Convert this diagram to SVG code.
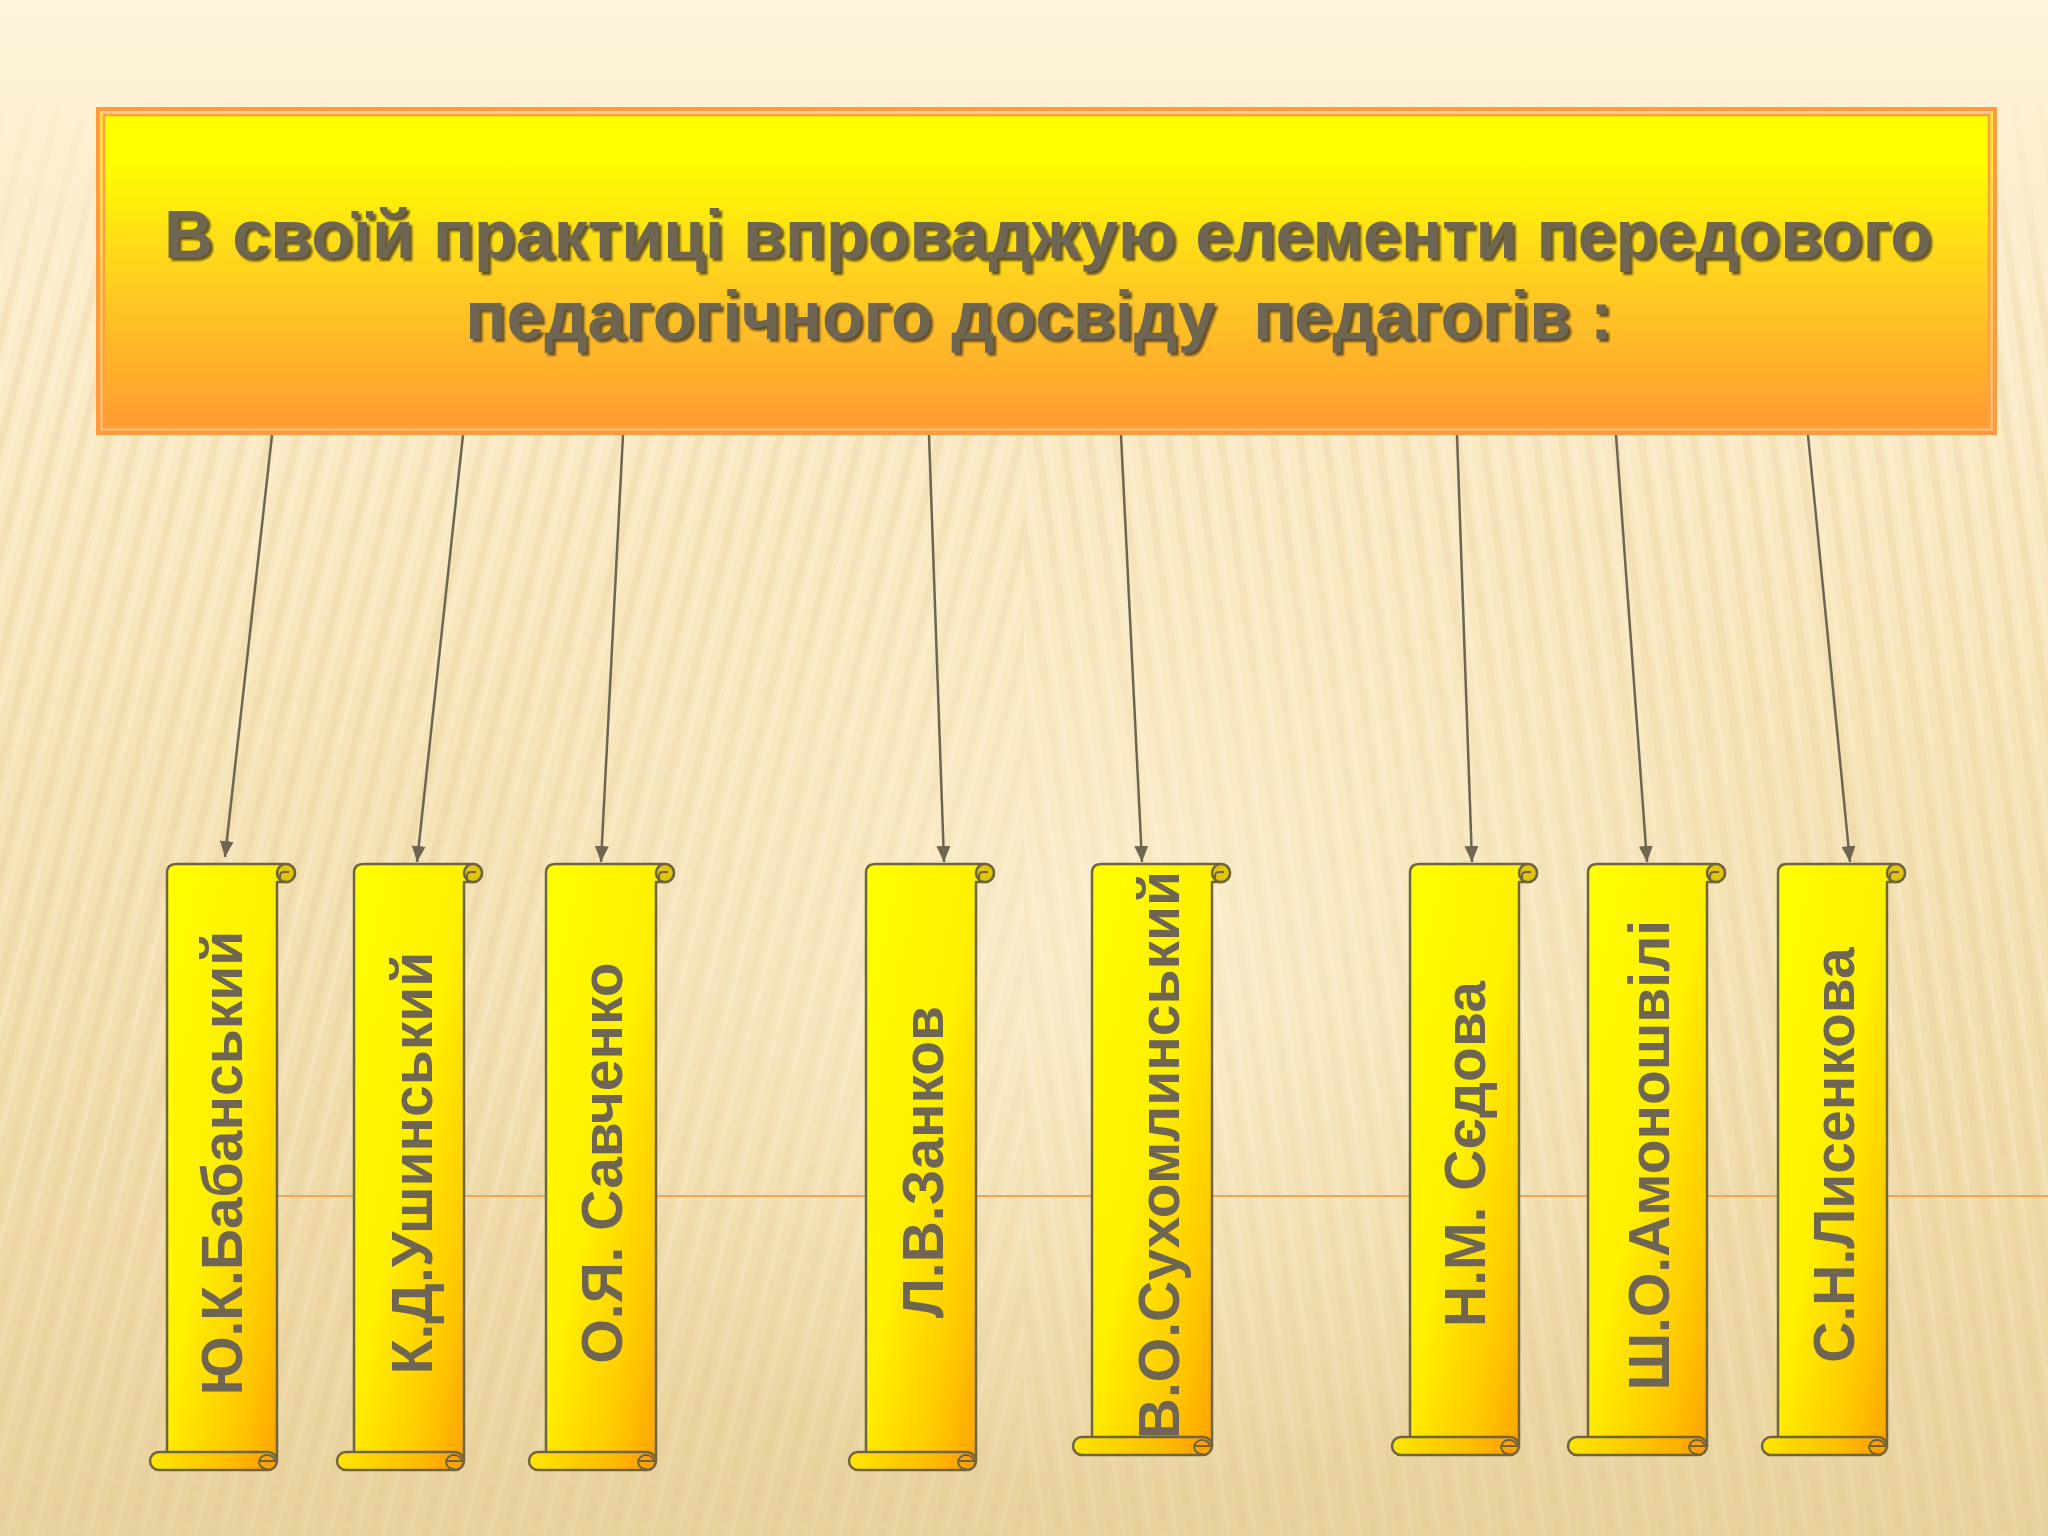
<svg xmlns="http://www.w3.org/2000/svg" width="2048" height="1536" viewBox="0 0 2048 1536">
<defs>
<linearGradient id="bg" x1="0" y1="0" x2="0" y2="1">
<stop offset="0" stop-color="#FEF4DA"/>
<stop offset="0.08" stop-color="#FDF0D2"/>
<stop offset="0.45" stop-color="#F7E5BA"/>
<stop offset="0.8" stop-color="#EFDAA8"/>
<stop offset="1" stop-color="#E8D29E"/>
</linearGradient>
<radialGradient id="glow" cx="0.55" cy="0.62" r="0.35">
<stop offset="0" stop-color="#FFF6DC" stop-opacity="0.6"/>
<stop offset="1" stop-color="#FFF6DC" stop-opacity="0"/>
</radialGradient>
<pattern id="stripesL" width="26" height="40" patternUnits="userSpaceOnUse" patternTransform="rotate(14)">
<rect x="0" y="0" width="8" height="40" fill="#D9BE80" opacity="0.18"/>
<rect x="13" y="0" width="4" height="40" fill="#FFF8E4" opacity="0.3"/>
</pattern>
<pattern id="stripesR" width="26" height="40" patternUnits="userSpaceOnUse" patternTransform="rotate(-8)">
<rect x="0" y="0" width="8" height="40" fill="#D9BE80" opacity="0.16"/>
<rect x="13" y="0" width="4" height="40" fill="#FFF8E4" opacity="0.3"/>
</pattern>
<linearGradient id="fadeG" x1="0" y1="0" x2="0" y2="1">
<stop offset="0" stop-color="#fff" stop-opacity="0"/>
<stop offset="0.06" stop-color="#fff" stop-opacity="0"/>
<stop offset="0.2" stop-color="#fff" stop-opacity="1"/>
<stop offset="0.75" stop-color="#fff" stop-opacity="0.8"/>
<stop offset="1" stop-color="#fff" stop-opacity="0.3"/>
</linearGradient>
<mask id="fade" maskUnits="userSpaceOnUse" x="0" y="0" width="2048" height="1536">
<rect x="0" y="0" width="2048" height="1536" fill="url(#fadeG)"/>
</mask>
<linearGradient id="hdr" x1="0" y1="0" x2="0" y2="1">
<stop offset="0" stop-color="#FFFF00"/>
<stop offset="0.15" stop-color="#FFFF00"/>
<stop offset="0.55" stop-color="#FFCC22"/>
<stop offset="1" stop-color="#FF9A33"/>
</linearGradient>
<linearGradient id="body" x1="0" y1="0" x2="1" y2="1">
<stop offset="0" stop-color="#FFFF00"/>
<stop offset="0.45" stop-color="#FFF000"/>
<stop offset="0.75" stop-color="#FFC800"/>
<stop offset="1" stop-color="#FF9500"/>
</linearGradient>
<linearGradient id="roll" x1="0" y1="0" x2="1" y2="0">
<stop offset="0" stop-color="#FFE600"/>
<stop offset="0.6" stop-color="#FFC000"/>
<stop offset="1" stop-color="#FF9A00"/>
</linearGradient>
<filter id="shadow" x="-5%" y="-20%" width="110%" height="140%">
<feDropShadow dx="3" dy="3" stdDeviation="1.2" flood-color="#3C3420" flood-opacity="0.8"/>
</filter>
<marker id="ah" markerUnits="userSpaceOnUse" markerWidth="16" markerHeight="14" refX="16" refY="7" orient="auto">
<path d="M0,0 L16,7 L0,14 Z" fill="#6E6650"/>
</marker>
<style>
.hd{font-family:"Liberation Sans",Arial,sans-serif;font-weight:bold;font-size:68px;fill:#6E6652;text-anchor:middle;white-space:pre}
.nm{font-family:"Liberation Sans",Arial,sans-serif;font-weight:bold;font-size:57px;fill:#6E6652;text-anchor:middle;white-space:pre}
.sb{fill:url(#body);stroke:#6E6440;stroke-width:2.5;stroke-linejoin:round}
.sr{fill:url(#roll);stroke:#6E6440;stroke-width:2.5}
.sc{fill:#E2C400;stroke:#6E6440;stroke-width:2.5}
.sh{fill:none;stroke:#6E6440;stroke-width:2}
.cn{stroke:#6E6650;stroke-width:2.5;fill:none;marker-end:url(#ah)}
</style>
</defs>

<g id="background">
<rect x="0" y="0" width="2048" height="1536" fill="url(#bg)"/>
<g mask="url(#fade)">
<rect x="0" y="0" width="1024" height="1536" fill="url(#stripesL)"/>
<rect x="1024" y="0" width="1024" height="1536" fill="url(#stripesR)"/>
</g>
<rect x="0" y="0" width="2048" height="1536" fill="url(#glow)"/>
<line x1="262" y1="1196" x2="2048" y2="1196" stroke="#F3A55A" stroke-width="2"/>
</g>

<g id="header">
<rect x="98" y="109" width="1897" height="324" fill="url(#hdr)" stroke="#FF9A40" stroke-width="4"/>
<rect x="101.5" y="112.5" width="1890" height="317" fill="none" stroke="#FFC98C" stroke-width="2"/>
<rect x="104" y="115" width="1885" height="312" fill="none" stroke="#FFA040" stroke-width="2.5"/>
<g filter="url(#shadow)">
<text class="hd" x="1048" y="258" textLength="1768" lengthAdjust="spacingAndGlyphs">В своїй практиці впроваджую елементи передового</text>
<text class="hd" x="1039" y="339">педагогічного досвіду  педагогів :</text>
</g>
</g>

<g id="connectors">
<line class="cn" x1="272" y1="435" x2="225" y2="857"/>
<line class="cn" x1="463" y1="435" x2="417" y2="862"/>
<line class="cn" x1="623" y1="435" x2="601" y2="862"/>
<line class="cn" x1="929" y1="435" x2="944" y2="862"/>
<line class="cn" x1="1121" y1="435" x2="1142" y2="862"/>
<line class="cn" x1="1457" y1="435" x2="1472" y2="862"/>
<line class="cn" x1="1616" y1="435" x2="1647" y2="862"/>
<line class="cn" x1="1808" y1="435" x2="1850" y2="862"/>
</g>

<g id="scroll1">
<path class="sb" d="M167,1461 V873 Q167,864 176,864 H286 A9,9 0 0 1 286,882 H277 V1461 Z"/>
<circle class="sc" cx="286" cy="873" r="9"/>
<path class="sh" d="M280,881 V876 Q280,872 284,872 H289"/>
<rect class="sr" x="150" y="1452" width="127" height="18" rx="9"/>
<path class="sh" d="M259,1461 H275 A8,7 0 1 0 268,1469"/>
<text class="nm" transform="translate(242,1163) rotate(-90)">Ю.К.Бабанський</text>
</g>

<g id="scroll2">
<path class="sb" d="M354,1461 V873 Q354,864 363,864 H473 A9,9 0 0 1 473,882 H464 V1461 Z"/>
<circle class="sc" cx="473" cy="873" r="9"/>
<path class="sh" d="M467,881 V876 Q467,872 471,872 H476"/>
<rect class="sr" x="337" y="1452" width="127" height="18" rx="9"/>
<path class="sh" d="M446,1461 H462 A8,7 0 1 0 455,1469"/>
<text class="nm" transform="translate(432,1163) rotate(-90)">К.Д.Ушинський</text>
</g>

<g id="scroll3">
<path class="sb" d="M546,1461 V873 Q546,864 555,864 H665 A9,9 0 0 1 665,882 H656 V1461 Z"/>
<circle class="sc" cx="665" cy="873" r="9"/>
<path class="sh" d="M659,881 V876 Q659,872 663,872 H668"/>
<rect class="sr" x="529" y="1452" width="127" height="18" rx="9"/>
<path class="sh" d="M638,1461 H654 A8,7 0 1 0 647,1469"/>
<text class="nm" transform="translate(622,1163) rotate(-90)">О.Я. Савченко</text>
</g>

<g id="scroll4">
<path class="sb" d="M866,1461 V873 Q866,864 875,864 H985 A9,9 0 0 1 985,882 H976 V1461 Z"/>
<circle class="sc" cx="985" cy="873" r="9"/>
<path class="sh" d="M979,881 V876 Q979,872 983,872 H988"/>
<rect class="sr" x="849" y="1452" width="127" height="18" rx="9"/>
<path class="sh" d="M958,1461 H974 A8,7 0 1 0 967,1469"/>
<text class="nm" transform="translate(943,1162) rotate(-90)">Л.В.Занков</text>
</g>

<g id="scroll5">
<path class="sb" d="M1092,1446 V873 Q1092,864 1101,864 H1221 A9,9 0 0 1 1221,882 H1212 V1446 Z"/>
<circle class="sc" cx="1221" cy="873" r="9"/>
<path class="sh" d="M1215,881 V876 Q1215,872 1219,872 H1224"/>
<rect class="sr" x="1073" y="1437" width="139" height="18" rx="9"/>
<path class="sh" d="M1194,1446 H1210 A8,7 0 1 0 1203,1454"/>
<text class="nm" transform="translate(1179,1155) rotate(-90)">В.О.Сухомлинський</text>
</g>

<g id="scroll6">
<path class="sb" d="M1410,1446 V873 Q1410,864 1419,864 H1528 A9,9 0 0 1 1528,882 H1519 V1446 Z"/>
<circle class="sc" cx="1528" cy="873" r="9"/>
<path class="sh" d="M1522,881 V876 Q1522,872 1526,872 H1531"/>
<rect class="sr" x="1392" y="1437" width="127" height="18" rx="9"/>
<path class="sh" d="M1501,1446 H1517 A8,7 0 1 0 1510,1454"/>
<text class="nm" transform="translate(1485,1154) rotate(-90)">Н.М. Сєдова</text>
</g>

<g id="scroll7">
<path class="sb" d="M1588,1446 V873 Q1588,864 1597,864 H1716 A9,9 0 0 1 1716,882 H1707 V1446 Z"/>
<circle class="sc" cx="1716" cy="873" r="9"/>
<path class="sh" d="M1710,881 V876 Q1710,872 1714,872 H1719"/>
<rect class="sr" x="1568" y="1437" width="139" height="18" rx="9"/>
<path class="sh" d="M1689,1446 H1705 A8,7 0 1 0 1698,1454"/>
<text class="nm" transform="translate(1669,1155) rotate(-90)">Ш.О.Амоношвілі</text>
</g>

<g id="scroll8">
<path class="sb" d="M1778,1446 V873 Q1778,864 1787,864 H1896 A9,9 0 0 1 1896,882 H1887 V1446 Z"/>
<circle class="sc" cx="1896" cy="873" r="9"/>
<path class="sh" d="M1890,881 V876 Q1890,872 1894,872 H1899"/>
<rect class="sr" x="1762" y="1437" width="125" height="18" rx="9"/>
<path class="sh" d="M1869,1446 H1885 A8,7 0 1 0 1878,1454"/>
<text class="nm" transform="translate(1854,1155) rotate(-90)">С.Н.Лисенкова</text>
</g>
</svg>
